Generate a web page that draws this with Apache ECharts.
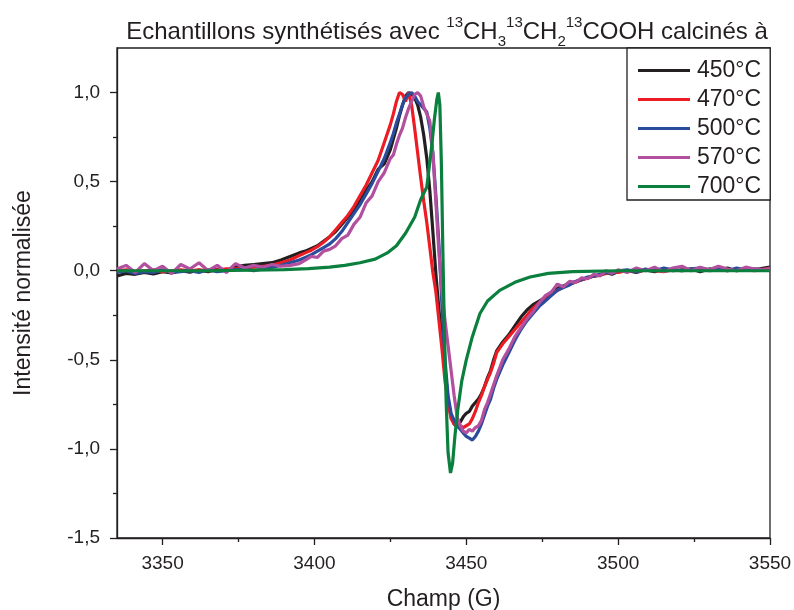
<!DOCTYPE html>
<html>
<head>
<meta charset="utf-8">
<script src="https://cdn.jsdelivr.net/npm/echarts@6/dist/echarts.min.js"></script>
<style>
  html, body { margin: 0; padding: 0; background: #fff; }
  #chart { width: 794px; height: 610px; }
</style>
</head>
<body>
<div id="chart"></div>
<script>
// champ magnetique (G), grille commune des 4 premiers spectres
var field = [3335,3338,3341,3344,3347,3350,3353,3356,3359,3362,3365,3368,3371,3374,3377,3380,3383,3386,3389,3392,3395,
  3397,3399,3401,3403,3405,3407,3409,3411,3413,3415,3417,3419,3421,3423,3425,
  3426,3427,3428,3429,3430,3431,3432,3433,3434,3435,3436,3437,3438,3439,3440,3441,3442,3443,3444,3445,
  3446,3447,3448,3449,3450,3451,3452,3453,3454,3455,3456,3457,3458,3459,3460,
  3462,3464,3466,3468,3470,3472,3474,3476,3478,3480,3482,3484,3486,3488,3490,3492,3494,3496,3498,3500,
  3503,3506,3509,3512,3515,3518,3521,3524,3527,3530,3533,3536,3539,3542,3545,3548,3550];

var int450 = [-0.03,-0.015,-0.02,-0.01,-0.018,-0.005,-0.012,0.0,-0.008,0.004,-0.006,0.008,0.0,0.02,0.03,0.035,0.04,0.045,0.06,0.08,0.1,
  0.11,0.125,0.14,0.165,0.19,0.22,0.26,0.3,0.34,0.39,0.45,0.5,0.57,0.6,0.68,
  0.74,0.8,0.87,0.93,0.98,1.0,0.99,0.97,0.93,0.86,0.76,0.63,0.45,0.22,-0.02,-0.22,-0.38,-0.56,-0.72,-0.82,
  -0.86,-0.875,-0.85,-0.82,-0.8,-0.79,-0.76,-0.74,-0.72,-0.69,-0.65,-0.6,-0.56,-0.5,-0.45,
  -0.4,-0.36,-0.31,-0.26,-0.22,-0.19,-0.17,-0.15,-0.12,-0.1,-0.085,-0.075,-0.06,-0.05,-0.04,-0.03,-0.025,-0.01,-0.02,-0.005,
  0.0,-0.01,0.005,-0.005,0.01,0.0,0.005,0.01,-0.005,0.01,0.005,0.015,0.0,0.01,0.005,0.015,0.02];

var int470 = [0.0,0.005,-0.005,0.0,0.005,-0.005,0.0,0.005,0.0,0.005,0.0,0.005,0.01,0.01,0.015,0.02,0.025,0.03,0.045,0.06,0.085,
  0.1,0.115,0.135,0.16,0.19,0.23,0.27,0.31,0.36,0.42,0.48,0.55,0.62,0.72,0.82,
  0.88,0.95,1.0,0.99,0.95,1.0,0.93,0.8,0.66,0.52,0.39,0.27,0.13,-0.01,-0.12,-0.28,-0.44,-0.62,-0.74,-0.83,
  -0.86,-0.875,-0.87,-0.88,-0.87,-0.86,-0.83,-0.79,-0.74,-0.7,-0.65,-0.61,-0.57,-0.52,-0.46,
  -0.41,-0.37,-0.33,-0.29,-0.25,-0.21,-0.18,-0.16,-0.13,-0.11,-0.09,-0.075,-0.065,-0.05,-0.04,-0.03,-0.025,-0.015,-0.01,-0.01,
  0.0,-0.005,0.005,0.0,-0.005,0.005,0.0,0.005,0.01,0.0,0.005,0.0,0.01,0.005,0.0,0.01,0.005];

var int500 = [-0.01,0.0,-0.015,-0.005,-0.01,0.005,-0.01,-0.005,0.0,-0.01,0.005,-0.005,0.0,0.005,0.01,0.0,0.01,0.02,0.03,0.045,0.06,
  0.075,0.09,0.11,0.13,0.15,0.18,0.22,0.27,0.32,0.37,0.43,0.49,0.56,0.63,0.72,
  0.77,0.83,0.88,0.93,0.97,0.99,1.0,0.98,0.95,0.93,0.91,0.89,0.8,0.66,0.42,0.15,-0.2,-0.5,-0.7,-0.8,
  -0.84,-0.87,-0.89,-0.91,-0.93,-0.94,-0.95,-0.93,-0.9,-0.86,-0.81,-0.76,-0.72,-0.66,-0.61,
  -0.53,-0.46,-0.39,-0.33,-0.28,-0.24,-0.2,-0.17,-0.14,-0.11,-0.095,-0.08,-0.06,-0.05,-0.035,-0.03,-0.02,-0.01,-0.015,0.0,
  0.005,-0.005,0.01,0.0,0.015,0.005,0.0,0.01,0.015,0.005,0.01,0.0,0.015,0.005,0.01,0.005,0.01];

var int570 = [0.01,0.03,-0.01,0.04,0.0,0.025,-0.015,0.035,0.01,0.045,0.0,0.03,-0.01,0.04,0.015,0.03,0.02,0.035,0.025,0.03,0.04,
  0.06,0.08,0.075,0.11,0.12,0.14,0.18,0.2,0.26,0.3,0.38,0.42,0.5,0.55,0.63,
  0.65,0.71,0.76,0.8,0.86,0.91,0.95,0.99,1.0,0.98,0.92,0.88,0.84,0.66,0.38,0.1,-0.12,-0.28,-0.42,-0.56,
  -0.7,-0.82,-0.87,-0.9,-0.91,-0.89,-0.9,-0.88,-0.87,-0.84,-0.78,-0.74,-0.69,-0.64,-0.59,
  -0.5,-0.44,-0.37,-0.32,-0.27,-0.23,-0.18,-0.14,-0.12,-0.075,-0.09,-0.06,-0.065,-0.04,-0.045,-0.02,-0.03,0.0,-0.015,0.005,
  -0.01,0.015,0.0,0.02,-0.005,0.015,0.025,0.0,0.02,0.005,0.025,0.01,0.0,0.02,0.01,0.005,0.015];

// 700°C : raie fine, grille propre
var field700 = [3335,3350,3365,3380,3390,3398,3405,3410,3415,3420,3424,3427,3430,3433,3435,3437,3438.5,3439.5,3440.3,3440.8,
  3441.3,3441.8,3442.3,3442.8,3443.4,3444,3444.8,3445.5,3446.3,3447.2,3448.5,3450,3452,3454.5,3457,3461,3466,3471,3477,3485,
  3500,3520,3550];
var int700 = [0,0,0,0.003,0.006,0.012,0.02,0.03,0.045,0.065,0.1,0.14,0.21,0.3,0.4,0.47,0.68,0.85,0.96,1.0,
  0.93,0.6,0.1,-0.35,-0.75,-1.02,-1.135,-1.08,-0.92,-0.78,-0.62,-0.5,-0.37,-0.24,-0.17,-0.11,-0.065,-0.035,-0.015,-0.005,
  0,0,0];

var names = ['450°C', '470°C', '500°C', '570°C', '700°C'];
var colors = ['#231f20', '#ec1c24', '#2b4c9c', '#b24f9f', '#0b7f3e'];

var xTicks = [3350, 3400, 3450, 3500, 3550];
var xMinor = [3375, 3425, 3475, 3525];
var yTicks = [-1.5, -1, -0.5, 0, 0.5, 1];
var yMinor = [-1.25, -0.75, -0.25, 0.25, 0.75];

var font = "'Liberation Sans', Arial, sans-serif";
var ink = '#231f20';

function pairs(xs, ys) {
  var out = [];
  for (var i = 0; i < xs.length; i++) out.push([xs[i], ys[i]]);
  return out;
}

var curves = [
  pairs(field, int450),
  pairs(field, int470),
  pairs(field, int500),
  pairs(field, int570),
  pairs(field700, int700)
];

var myChart = echarts.init(document.getElementById('chart'), null, { renderer: 'canvas' });

var series = [];
for (var i = 0; i < names.length; i++) {
  series.push({
    name: names[i],
    type: 'line',
    data: curves[i],
    color: colors[i],
    showSymbol: false,
    symbol: 'none',
    lineStyle: { width: 3.2, color: colors[i] },
    xAxisIndex: 0,
    yAxisIndex: 0
  });
}

option = {
  animation: false,
  backgroundColor: '#fff',
  title: {
    text: 'Echantillons synthétisés avec {sup|13}CH{sub|3}{sup|13}CH{sub|2}{sup|13}COOH calcinés à',
    left: 447,
    textAlign: 'center',
    top: 15,
    padding: 0,
    textStyle: {
      fontFamily: font, fontSize: 24, fontWeight: 'normal', color: ink, lineHeight: 34,
      rich: {
        sup: { fontFamily: font, fontSize: 15, color: ink, verticalAlign: 'top', lineHeight: 15 },
        sub: { fontFamily: font, fontSize: 15, color: ink, verticalAlign: 'bottom', lineHeight: 15 }
      }
    }
  },
  legend: {
    data: names,
    orient: 'vertical',
    left: 627,
    top: 48,
    padding: [11, 9, 2, 11],
    itemGap: 6,
    itemWidth: 52,
    itemHeight: 3,
    icon: 'rect',
    borderColor: ink,
    borderWidth: 1.3,
    backgroundColor: '#fff',
    textStyle: { fontFamily: font, fontSize: 23, lineHeight: 23, color: ink, padding: [0, 0, 0, 2] }
  },
  grid: {
    left: 117, right: 24, top: 48, bottom: 72,
    containLabel: false,
    outerBoundsMode: 'none',
    show: true, borderColor: ink, borderWidth: 1.3
  },
  xAxis: [
    {
      type: 'value', min: 3335, max: 3550, position: 'bottom',
      name: 'Champ (G)', nameLocation: 'middle', nameGap: 50,
      nameTextStyle: { fontFamily: font, fontSize: 23, color: ink },
      axisLine: { show: true, onZero: false, lineStyle: { color: ink, width: 1.3 } },
      axisTick: { show: true, inside: false, length: 7, customValues: xTicks, lineStyle: { color: ink, width: 1.3 } },
      axisLabel: {
        customValues: xTicks, fontFamily: font, fontSize: 19, color: ink, margin: 16,
        formatter: function (v) { return String(v); }
      },
      splitLine: { show: false }
    },
    {
      type: 'value', min: 3335, max: 3550, position: 'bottom',
      axisLine: { show: false, onZero: false },
      axisTick: { show: true, inside: false, length: 4, customValues: xMinor, lineStyle: { color: ink, width: 1.3 } },
      axisLabel: { show: false },
      splitLine: { show: false }
    }
  ],
  yAxis: [
    {
      type: 'value', min: -1.5, max: 1.25, position: 'left',
      name: 'Intensité normalisée', nameLocation: 'middle', nameGap: 82,
      nameTextStyle: { fontFamily: font, fontSize: 23, color: ink },
      axisLine: { show: true, onZero: false, lineStyle: { color: ink, width: 1.3 } },
      axisTick: { show: true, inside: false, length: 7, customValues: yTicks, lineStyle: { color: ink, width: 1.3 } },
      axisLabel: {
        customValues: yTicks, fontFamily: font, fontSize: 19, color: ink, margin: 17,
        formatter: function (v) { return v.toFixed(1).replace('.', ','); }
      },
      splitLine: { show: false }
    },
    {
      type: 'value', min: -1.5, max: 1.25, position: 'left',
      axisLine: { show: false, onZero: false },
      axisTick: { show: true, inside: false, length: 4, customValues: yMinor, lineStyle: { color: ink, width: 1.3 } },
      axisLabel: { show: false },
      splitLine: { show: false }
    }
  ],
  series: series
};

myChart.setOption(option);
</script>
</body>
</html>
